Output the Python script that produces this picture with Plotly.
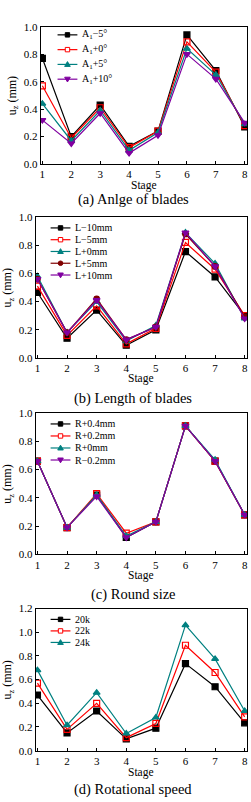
import plotly.graph_objects as go

W, H = 251, 802
FONT = "Times New Roman, Liberation Serif, serif"

stages = [1, 2, 3, 4, 5, 6, 7, 8]

# (a) Angle of blades
a_names = ["A<sub>1</sub>−5°", "A<sub>1</sub>+0°", "A<sub>1</sub>+5°", "A<sub>1</sub>+10°"]
a_m5 = [0.77, 0.20, 0.43, 0.13, 0.24, 0.94, 0.68, 0.27]
a_p0 = [0.57, 0.19, 0.41, 0.12, 0.24, 0.89, 0.67, 0.28]
a_p5 = [0.44, 0.17, 0.39, 0.10, 0.23, 0.84, 0.65, 0.29]
a_p10 = [0.32, 0.15, 0.37, 0.08, 0.21, 0.80, 0.62, 0.30]

# (b) Length of blades
b_names = ["L−10mm", "L−5mm", "L+0mm", "L+5mm", "L+10mm"]
b_m10 = [0.465, 0.14, 0.34, 0.09, 0.20, 0.755, 0.575, 0.30]
b_m5 = [0.51, 0.16, 0.37, 0.10, 0.21, 0.82, 0.63, 0.30]
b_p0 = [0.58, 0.18, 0.40, 0.12, 0.23, 0.89, 0.67, 0.28]
b_p5 = [0.56, 0.18, 0.42, 0.13, 0.22, 0.88, 0.65, 0.29]
b_p10 = [0.56, 0.18, 0.41, 0.13, 0.22, 0.89, 0.65, 0.28]

# (c) Round size
c_names = ["R+0.4mm", "R+0.2mm", "R+0mm", "R−0.2mm"]
c_p04 = [0.66, 0.19, 0.42, 0.12, 0.23, 0.91, 0.66, 0.28]
c_p02 = [0.66, 0.19, 0.43, 0.15, 0.23, 0.91, 0.66, 0.28]
c_p0 = [0.66, 0.19, 0.42, 0.13, 0.23, 0.91, 0.67, 0.28]
c_m02 = [0.66, 0.19, 0.41, 0.12, 0.23, 0.91, 0.66, 0.28]

# (d) Rotational speed
d_names = ["20k", "22k", "24k"]
d_20k = [0.47, 0.15, 0.335, 0.10, 0.19, 0.735, 0.54, 0.235]
d_22k = [0.57, 0.18, 0.40, 0.11, 0.23, 0.89, 0.66, 0.285]
d_24k = [0.68, 0.215, 0.49, 0.145, 0.28, 1.06, 0.775, 0.335]

captions = ["(a) Anlge of blades", "(b) Length of blades", "(c) Round size", "(d) Rotational speed"]

BLACK, RED, TEAL, WINE, PURPLE = "#000000", "#FF0000", "#008080", "#800000", "#8000A0"
STY = {
    "sq": dict(symbol="square", color=BLACK, fill=BLACK),
    "osq": dict(symbol="square-open", color=RED, fill="white"),
    "tri": dict(symbol="triangle-up", color=TEAL, fill=TEAL),
    "cir": dict(symbol="circle", color=WINE, fill=WINE),
    "dtri": dict(symbol="triangle-down", color=PURPLE, fill=PURPLE),
}

panels = [
    dict(series=[a_m5, a_p0, a_p5, a_p10], names=a_names, styles=["sq", "osq", "tri", "dtri"],
         xpx=(40, 248), ypx=(21, 160.5), yr=1.0, ytitle_x=12, stage_y=182, cap_y=196,
         leg=(57, 29.3, 15.0)),
    dict(series=[b_m10, b_m5, b_p0, b_p5, b_p10], names=b_names, styles=["sq", "osq", "tri", "cir", "dtri"],
         xpx=(35, 248), ypx=(214.3, 357.3), yr=1.0, ytitle_x=7, stage_y=377.7, cap_y=398,
         leg=(50, 225.3, 11.95)),
    dict(series=[c_p04, c_p02, c_p0, c_m02], names=c_names, styles=["sq", "osq", "tri", "dtri"],
         xpx=(35, 248), ypx=(413.3, 556.7), yr=1.0, ytitle_x=7, stage_y=577.7, cap_y=597.5,
         leg=(50, 424.3, 12.2)),
    dict(series=[d_20k, d_22k, d_24k], names=d_names, styles=["sq", "osq", "tri"],
         xpx=(35, 248), ypx=(611.7, 756), yr=1.2, ytitle_x=7, stage_y=777.7, cap_y=795,
         leg=(50, 622.7, 11.7)),
]


def px(x):
    return x / W


def py(y):
    return 1 - y / H


fig = go.Figure()
shapes = []
annotations = []

for i, p in enumerate(panels):
    n = "" if i == 0 else str(i + 1)
    xa, ya = "x" + n, "y" + n
    for vals, name, st in zip(p["series"], p["names"], p["styles"]):
        s = STY[st]
        fig.add_trace(go.Scatter(
            x=stages, y=vals, name=name, mode="lines+markers", xaxis=xa, yaxis=ya,
            showlegend=False,
            line=dict(color=s["color"], width=1.2),
            marker=dict(symbol=s["symbol"], size=6 if st != "cir" else 5.5,
                        color=s["color"], line=dict(color=s["color"], width=1.2)),
        ))
    axcommon = dict(showline=True, linecolor="black", linewidth=1, mirror=True,
                    ticks="inside", ticklen=3, tickcolor="black", showgrid=False, zeroline=False,
                    tickfont=dict(family=FONT, size=11, color="black"))
    fig.layout["xaxis" + n] = dict(domain=[px(p["xpx"][0]), px(p["xpx"][1])], range=[0.942, 8.079],
                                   tickvals=stages, anchor=ya, **axcommon)
    fig.layout["yaxis" + n] = dict(domain=[py(p["ypx"][1]), py(p["ypx"][0])], range=[0, p["yr"]],
                                   dtick=0.2, tickformat=".1f", anchor=xa, **axcommon)
    xmid = px((p["xpx"][0] + p["xpx"][1]) / 2)
    ymid = py((p["ypx"][0] + p["ypx"][1]) / 2)
    annotations.append(dict(x=px(p["ytitle_x"]), y=ymid, xref="paper", yref="paper",
                            text="u<sub>z</sub> (mm)", textangle=-90, showarrow=False,
                            xanchor="center", yanchor="middle",
                            font=dict(family=FONT, size=12, color="black")))
    annotations.append(dict(x=xmid, y=py(p["stage_y"]), xref="paper", yref="paper",
                            text="Stage", showarrow=False, xanchor="center", yanchor="middle",
                            font=dict(family=FONT, size=11.5, color="black")))
    annotations.append(dict(x=0.5 + px(8), y=py(p["cap_y"]), xref="paper", yref="paper",
                            text=captions[i], showarrow=False, xanchor="center", yanchor="middle",
                            font=dict(family=FONT, size=14.5, color="black")))
    # legend
    lx, ly, dy = p["leg"]
    for k, (name, st) in enumerate(zip(p["names"], p["styles"])):
        s = STY[st]
        yy = py(ly + k * dy)
        shapes.append(dict(type="line", xref="paper", yref="paper", x0=px(lx), x1=px(lx + 20),
                           y0=yy, y1=yy, line=dict(color=s["color"], width=1.2)))
        cx = px(lx + 10)
        base = dict(xref="paper", yref="paper", xsizemode="pixel", ysizemode="pixel",
                    xanchor=cx, yanchor=yy, line=dict(color=s["color"], width=1),
                    fillcolor=s["fill"])
        if st in ("sq", "osq"):
            shapes.append(dict(type="rect", x0=-2.2, x1=2.2, y0=-2.2, y1=2.2, **base))
        elif st == "cir":
            shapes.append(dict(type="circle", x0=-2.3, x1=2.3, y0=-2.3, y1=2.3, **base))
        elif st == "tri":
            shapes.append(dict(type="path", path="M-2.8,-2 L2.8,-2 L0,2.8 Z", **base))
        else:
            shapes.append(dict(type="path", path="M-2.8,2 L2.8,2 L0,-2.8 Z", **base))
        annotations.append(dict(x=px(lx + 23), y=yy, xref="paper", yref="paper", text=name,
                                showarrow=False, xanchor="left", yanchor="middle",
                                font=dict(family=FONT, size=10, color="black")))

fig.update_layout(width=W, height=H, margin=dict(l=0, r=0, t=0, b=0),
                  paper_bgcolor="white", plot_bgcolor="white",
                  font=dict(family=FONT, size=12, color="black"),
                  shapes=shapes, annotations=annotations, showlegend=False)
fig.write_html("out.html")
